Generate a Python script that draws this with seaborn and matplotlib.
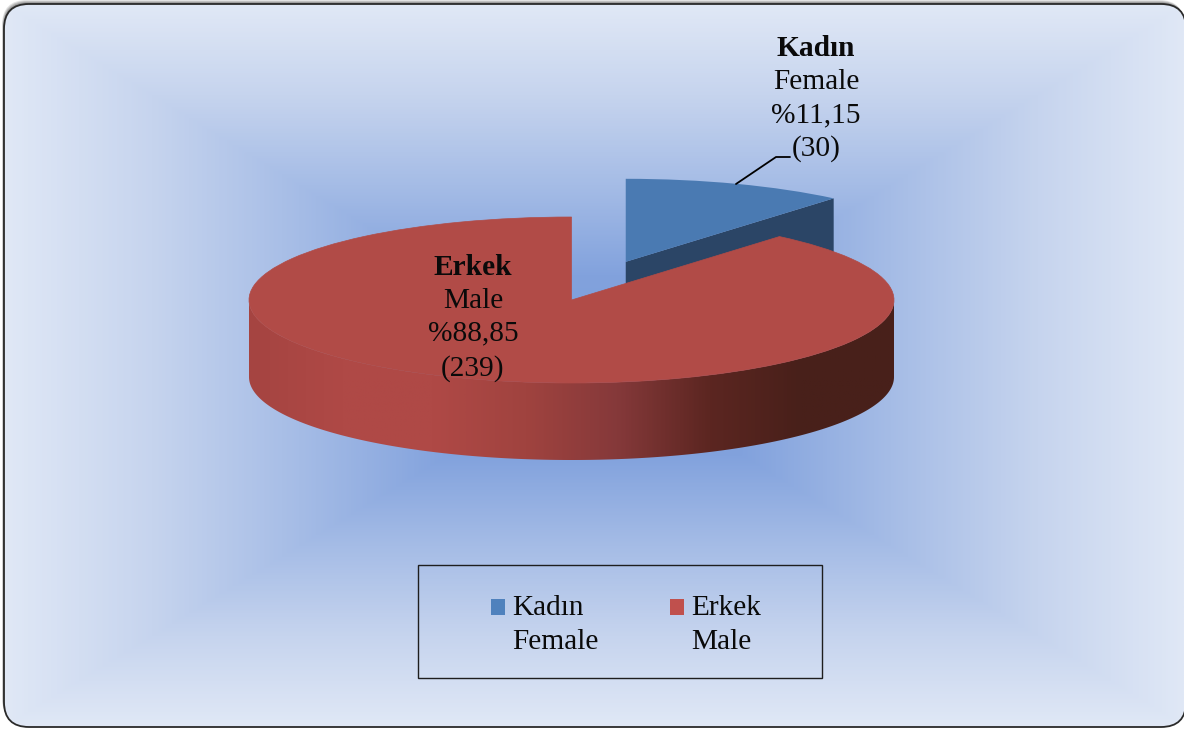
import numpy as np
import matplotlib.pyplot as plt
from matplotlib.patches import FancyBboxPatch, Patch, Polygon, Rectangle
import seaborn as sns

counts = [30, 239]
legend_labels = ['Kadın\nFemale', 'Erkek\nMale']
kadin_label = ['Kadın', 'Female', '%11,15', '(30)']
erkek_label = ['Erkek', 'Male', '%88,85', '(239)']

sns.set_theme(style='white')
plt.rcParams['font.family'] = ['Liberation Serif', 'DejaVu Serif']

W, H = 1184, 729
# pie geometry in pixels
cx, cy, rx, ry, depth = 571.5, 300, 322.5, 83, 77

top_colors = ['#4a7ab2', '#b14b47']
legend_colors = ['#4f81bd', '#c0504d']
face_dark = '#2b4566'

fig = plt.figure(figsize=(W / 100, H / 100), dpi=100, facecolor='white')

# background panel, pixel coordinates
bg = fig.add_axes([0, 0, 1, 1])
bg.set_axis_off()


def rounded_outline(x, y, w, h, r=25):
    # flattened, agg mangles curves that run past the canvas edge
    box = FancyBboxPatch((x, y), w, h, boxstyle=f'round,pad=0,rounding_size={r}', mutation_scale=1)
    return box.get_path().to_polygons()[0]


# soft shadow along the top left
for off, col in [(4, '#e2e2e2'), (3, '#c0c0c0'), (2, '#a0a0a0'), (1, '#808080')]:
    bg.add_patch(Polygon(rounded_outline(4 - off * 0.5, 4 - off, 1182, 723), fc=col, ec='none', zorder=1))

bg_cmap = sns.blend_palette(['#7b9cdc', '#82a2dd', '#a5bce6', '#c6d4ee', '#e0e8f6'], 256, as_cmap=True)
xx, yy = np.meshgrid(np.linspace(4, 1186, 600), np.linspace(4, 727, 400))
t = np.maximum(np.abs(xx - 595) / 591, np.abs(yy - 365.5) / 361.5)
panel_img = bg.imshow(t, extent=(4, 1186, 727, 4), cmap=bg_cmap, vmin=0, vmax=1, aspect='auto', zorder=2)
panel = Polygon(rounded_outline(4, 4, 1182, 723), fc='none', ec='#2a2a2a', lw=1.3, zorder=3)
bg.add_patch(panel)
panel_img.set_clip_path(panel)
bg.set_xlim(0, W)
bg.set_ylim(H, 0)

# pie axes: one data unit is one radius, so the aspect gives the tilt
ax = fig.add_axes([0, 0, 1, 1])
wedges, _ = ax.pie(counts, colors=top_colors, startangle=90, counterclock=False,
                   explode=[0.49, 0], radius=1, wedgeprops={'linewidth': 0})
ax.set_aspect('auto')
x0, x1 = -cx / rx, (W - cx) / rx
y0, y1 = -(H - cy) / ry, cy / ry
d = depth / ry

# blue cut face
blue, red = wedges
bx, by = blue.center
edge = np.deg2rad(blue.theta1)
ex, ey = bx + np.cos(edge), by + np.sin(edge)
ax.add_patch(Polygon([(bx, by), (ex, ey), (ex, ey - d), (bx, by - d)], fc=face_dark, ec='none', zorder=1))
blue.set_zorder(2)

# red outer wall with its horizontal shading
wall_cmap = sns.blend_palette(['#a54441', '#af4946', '#af4946', '#a0433f', '#85393a',
                               '#5c2621', '#48201a', '#48201a'], 256, as_cmap=True)
ang = np.linspace(0, -np.pi, 200)
arc = np.column_stack([np.cos(ang), np.sin(ang)])
wall = Polygon(np.vstack([arc, (arc - [0, d])[::-1]]), closed=True, transform=ax.transData,
               fc='none', ec='none')
ax.add_patch(wall)
wall_img = ax.imshow(np.linspace(0, 1, 400)[None, :], extent=(-1, 1, -1 - d, 0), cmap=wall_cmap,
                     aspect='auto', zorder=3)
wall_img.set_clip_path(wall)
red.set_zorder(4)
red.set_edgecolor(top_colors[1])
red.set_linewidth(0.5)

ax.set_xlim(x0, x1)
ax.set_ylim(y0, y1)
ax.set_aspect('auto')

# value labels, placed in pixels
fs = 21.2
for i, (txt, y) in enumerate(zip(kadin_label, [48, 82, 115, 149])):
    ax.text(816, y, txt, transform=bg.transData, ha='center', va='center', fontsize=fs, color='#0a0a0a',
            fontweight='bold' if i == 0 else 'normal', zorder=6)
for i, (txt, y) in enumerate(zip(erkek_label, [267, 301, 333, 369])):
    ax.text(473, y, txt, transform=bg.transData, ha='center', va='center', fontsize=fs, color='#0a0a0a',
            fontweight='bold' if i == 0 else 'normal', zorder=6)
ax.plot([736, 776, 790], [184, 157, 157], transform=bg.transData, color='black', lw=1.3, zorder=6)

# legend box is wider than its entries, so it is drawn on its own
ax.add_patch(Rectangle((418, 565), 404, 113, transform=bg.transData, fc='none', ec='#1e1e1e',
                       lw=1.0, zorder=6))
handles = [Patch(fc=c, ec='none') for c in legend_colors]
leg = ax.legend(handles, legend_labels, ncol=2, loc='center', bbox_to_anchor=(626, 625),
                bbox_transform=bg.transData, fontsize=fs, frameon=False, labelcolor='#0a0a0a',
                handlelength=0.5, handleheight=0.5, handletextpad=0.24, columnspacing=2.4,
                borderpad=0, borderaxespad=0)
for txt in leg.get_texts():
    txt.set_linespacing(1.36)
for h in leg.legend_handles:
    h.set_y(h.get_y() + 12.7)
leg.set_zorder(7)

fig.savefig('out.png', dpi=100)
